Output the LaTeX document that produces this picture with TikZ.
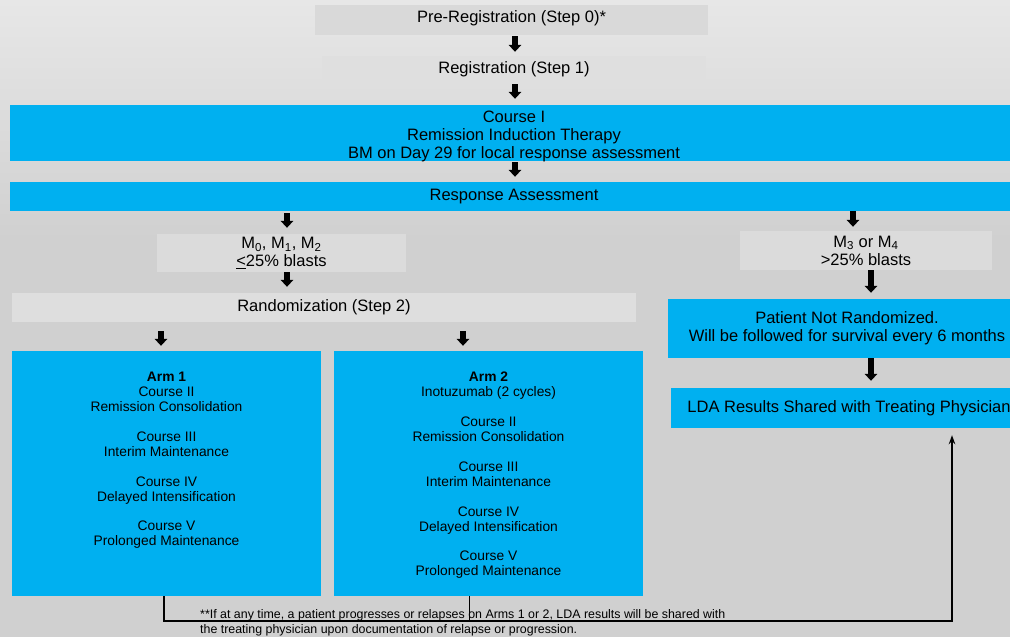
\documentclass[tikz,border=0pt]{standalone}
\usepackage{fontspec}
\setmainfont{Liberation Sans}
\usetikzlibrary{arrows.meta,calc}
\definecolor{cy}{RGB}{0,176,240}
\definecolor{bgtop}{RGB}{231,231,231}
\definecolor{bgbot}{RGB}{208,208,208}
\definecolor{gbA}{RGB}{217,217,217}
\definecolor{gbB}{RGB}{223,223,223}
\definecolor{gbC}{RGB}{219,219,219}
\definecolor{gbD}{RGB}{222,222,222}
\begin{document}
\begin{tikzpicture}[x=1pt,y=-1pt,
  box/.style={draw=none, inner sep=0pt, font=\fontsize{16.5}{18}\selectfont, align=center, text=black},
  gbox/.style={box, fill=gbA},
  cbox/.style={box, fill=cy},
  armtxt/.style={inner sep=0pt, font=\fontsize{13.8}{15}\selectfont, align=center, text=black},
  notetxt/.style={inner sep=0pt, font=\fontsize{12.4}{15.5}\selectfont, align=left, text=black},
  blk/.style={line width=5.5pt, -{Triangle[width=12.5pt,length=7pt]}},
  fb/.style={line width=1.4pt, -{Stealth[width=6.5pt,length=9pt]}},
  fbl/.style={line width=1.4pt}
]
\clip (0,0) rectangle (1010,637);
\shade[top color=bgtop,bottom color=bgbot] (0,0) rectangle (1010,240);
\fill[bgbot] (0,240) rectangle (1010,637);

\node[gbox, minimum width=393, minimum height=30] (pre) at (511.5,20) {};
\node[box] (pret) at ([yshift=2pt]pre.center) {Pre-Registration (Step 0)*};
\node[gbox, fill=gbB, minimum width=384, minimum height=27] (reg) at (514,69.5) {Registration (Step 1)};
\node[cbox, minimum width=1008, minimum height=56] (c1) at (514,133) {};
\node[box] (c1t) at ([yshift=-3pt]c1.center) {Course I\\Remission Induction Therapy\\BM on Day 29 for local response assessment};
\node[cbox, minimum width=1008, minimum height=29] (resp) at (514,196.5) {Response Assessment};
\node[gbox, fill=gbC, minimum width=249, minimum height=38] (m0) at (281.5,253) {M\textsubscript{0}, M\textsubscript{1}, M\textsubscript{2}\\\underline{<}25\% blasts};
\node[gbox, fill=gbC, minimum width=252, minimum height=39] (m3) at (866,250.5) {M\textsubscript{3} or M\textsubscript{4}\\>25\% blasts};
\node[gbox, fill=gbD, minimum width=624, minimum height=29] (rand) at (324,307.5) {Randomization (Step 2)};
\node[cbox, minimum width=358, minimum height=59] (pnr) at (847,328.5) {Patient Not Randomized.\\Will be followed for survival every 6 months};
\node[cbox, minimum width=356, minimum height=40] (lda) at (849,408) {LDA Results Shared with Treating Physician};
\node[cbox, minimum width=309, minimum height=245] (arm1) at (166.5,473.5) {};
\node[cbox, minimum width=309, minimum height=245] (arm2) at (488.5,473.5) {};
\node[armtxt, anchor=north] (arm1t) at (166.5,371.5) {\textbf{Arm 1}\\Course II\\Remission Consolidation\\[15pt]Course III\\Interim Maintenance\\[15pt]Course IV\\Delayed Intensification\\[14.5pt]Course V\\Prolonged Maintenance};
\node[armtxt, anchor=north] (arm2t) at (488.5,371.5) {\textbf{Arm 2}\\Inotuzumab (2 cycles)\\[15pt]Course II\\Remission Consolidation\\[15pt]Course III\\Interim Maintenance\\[15pt]Course IV\\Delayed Intensification\\[14.5pt]Course V\\Prolonged Maintenance};

% block arrows
\coordinate (a1) at ([xshift=3.5pt]pre.south);
\draw[blk, shorten <=1pt, shorten >=4pt] (a1) -- (a1 |- reg.north);
\coordinate (a2) at ([xshift=1pt]reg.south);
\draw[blk, shorten <=1pt, shorten >=6pt] (a2) -- (a2 |- c1.north);
\coordinate (a3) at ([xshift=1pt]c1.south);
\draw[blk, shorten <=1pt, shorten >=5pt] (a3) -- (a3 |- resp.north);
\coordinate (a4) at ([xshift=5.5pt]m0.north);
\draw[blk, shorten <=2pt, shorten >=6pt] (a4 |- resp.south) -- (a4);
\coordinate (a5) at ([xshift=-13pt]m3.north);
\draw[blk, shorten >=4pt] (a5 |- resp.south) -- (a5);
\coordinate (a6) at ([xshift=5.5pt]m0.south);
\draw[blk, shorten >=6pt] (a6) -- (a6 |- rand.north);
\coordinate (a7) at ([xshift=5pt]m3.south);
\draw[blk, shorten >=6pt] (a7) -- (a7 |- pnr.north);
\coordinate (a8) at ([xshift=-5.5pt]arm1.north);
\draw[blk, shorten <=9pt, shorten >=5pt] (a8 |- rand.south) -- (a8);
\coordinate (a9) at ([xshift=-25.5pt]arm2.north);
\draw[blk, shorten <=9pt, shorten >=5pt] (a9 |- rand.south) -- (a9);
\coordinate (a10) at ([xshift=24pt]pnr.south);
\draw[blk, shorten >=7pt] (a10) -- (a10 |- lda.north);

% feedback connector
\coordinate (f1) at ([xshift=-2.5pt]arm1.south);
\coordinate (fbend) at (952,621);
\coordinate (f3) at (fbend |- lda.south);
\draw[fb, shorten >=7pt] (f1) |- (fbend) -- (f3);
\coordinate (f2) at ([xshift=-19pt]arm2.south);
\draw[fbl] (f2) -- (f2 |- fbend);

\node[notetxt, anchor=north west] (note) at (200,609) {**If at any time, a patient progresses or relapses on Arms 1 or 2, LDA results will be shared with\\the treating physician upon documentation of relapse or progression.};
\end{tikzpicture}
\end{document}
